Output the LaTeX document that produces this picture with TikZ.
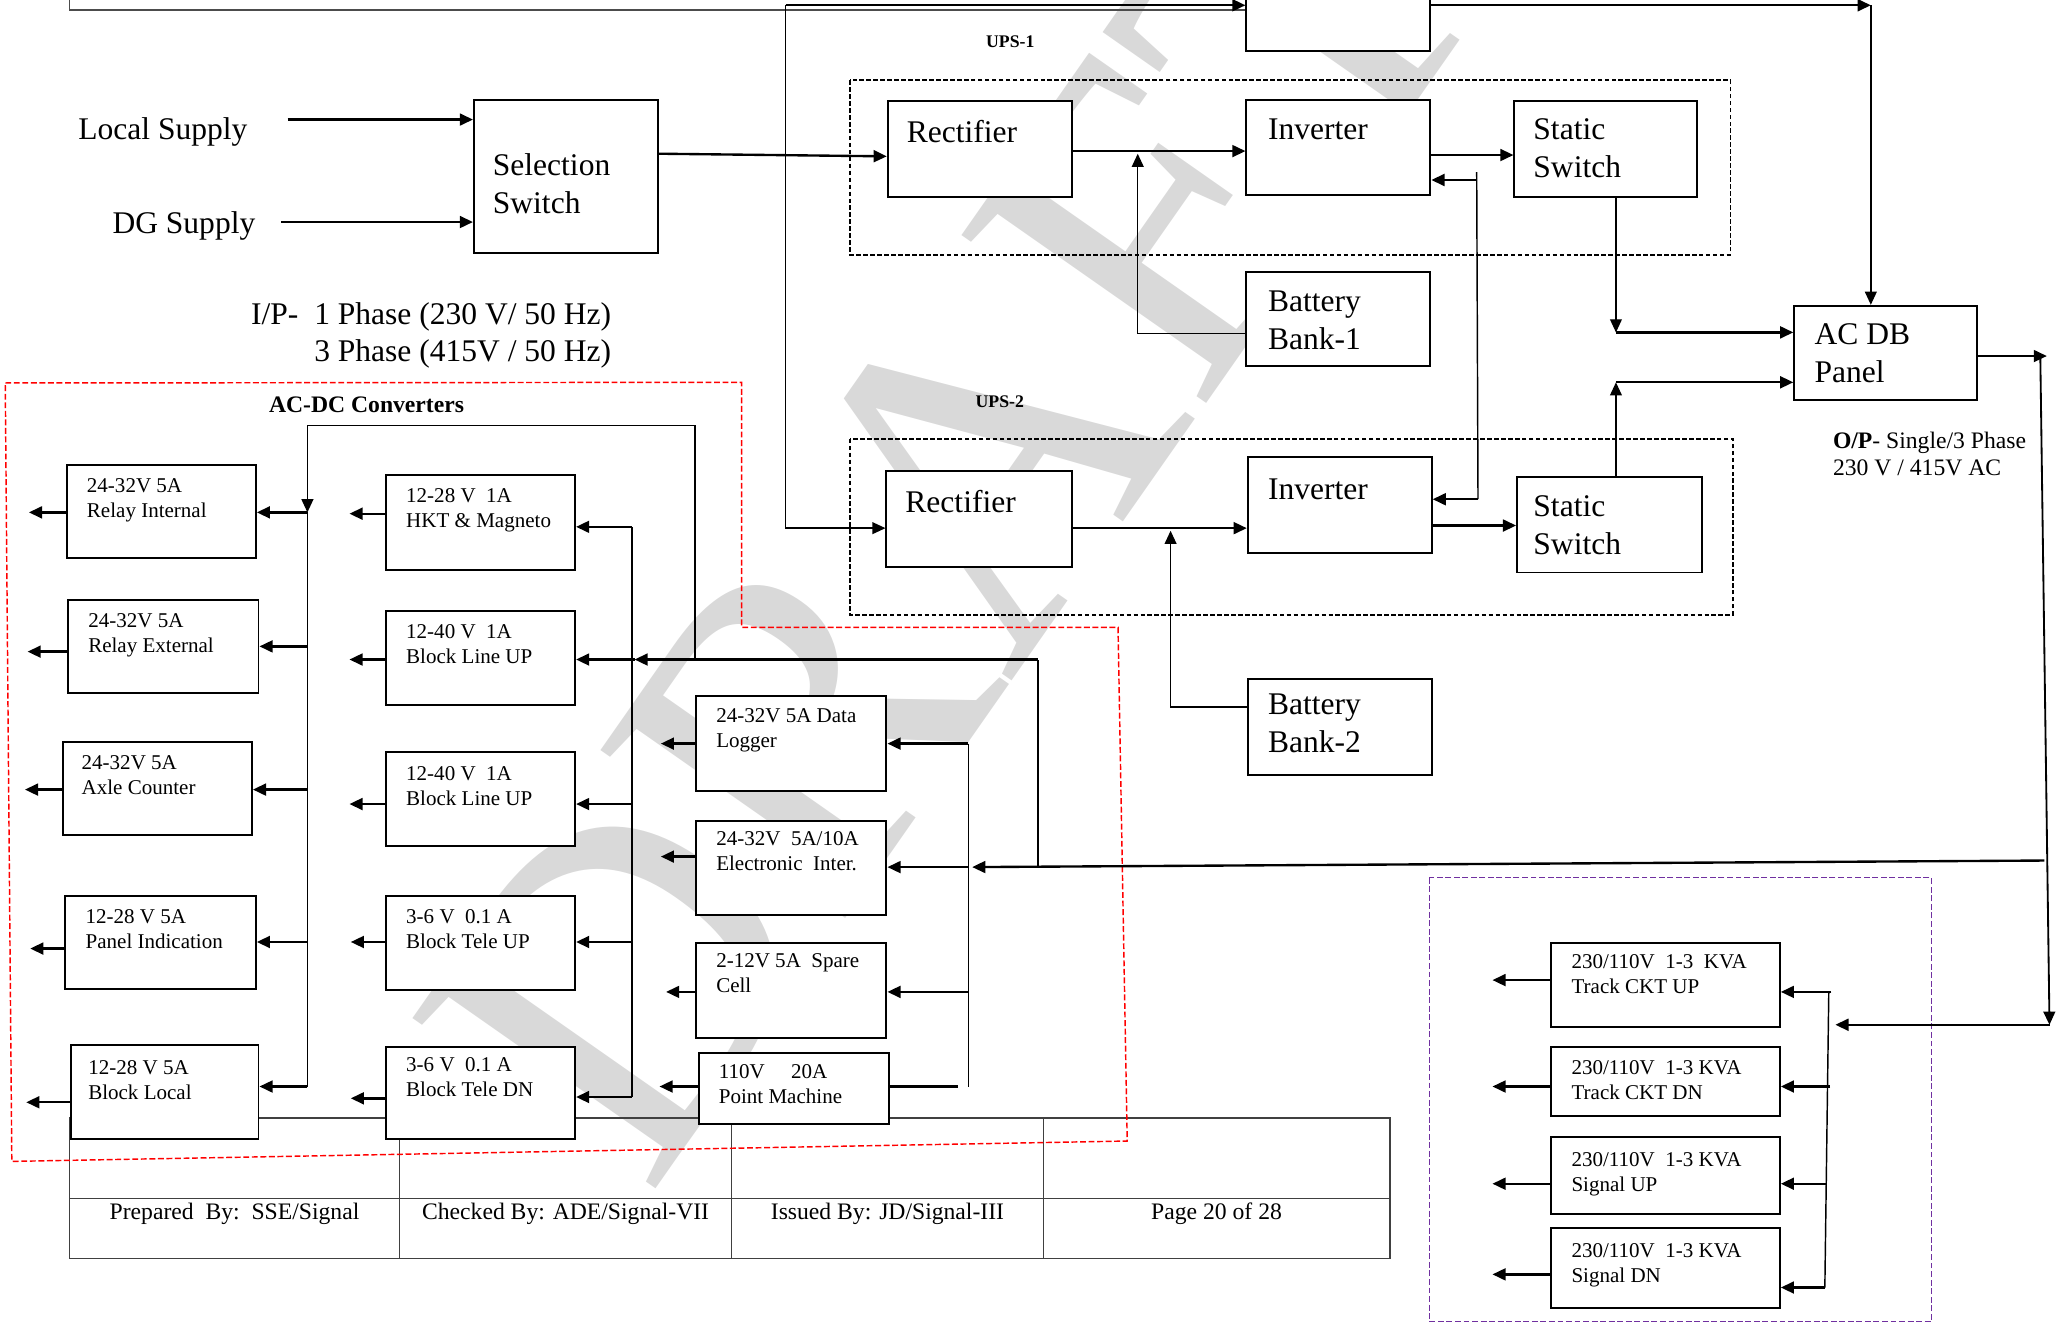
\documentclass[tikz,border=0pt]{standalone}
\usepackage{fontspec}
\setmainfont{Liberation Serif}
\usetikzlibrary{arrows.meta}

\definecolor{upsviolet}{RGB}{112,48,160}

\tikzset{
  blk/.style={draw, line width=1.5pt, fill=white, anchor=north west, inner sep=0pt},
  big/.style={font=\fontsize{24}{29}\selectfont},
  sml/.style={font=\fontsize{16}{19}\selectfont},
  lbl/.style={anchor=north west, align=left, inner sep=0pt},
  bl/.style={lbl, big, xshift=15pt, yshift=-15pt},
  sl/.style={lbl, sml, xshift=16pt, yshift=-11pt},
  arr/.style={line width=1.8pt, -{Triangle[length=10pt,width=9pt]}},
  tarr/.style={line width=1.1pt, -{Triangle[length=10pt,width=9pt]}},
  wire/.style={line width=1.1pt},
  lnk/.style={line width=1.8pt},
  tbl/.style={line width=0.9pt, black!75},
  wmark/.style={font=\fontsize{345}{345}\selectfont, text=black!15, rotate=55},
}

\begin{document}
\begin{tikzpicture}[x=1pt, y=-1pt]
  \useasboundingbox (0,0) rectangle (1568,1007);

  % watermark
  \node[wmark] (draft) at (725,385) {DRAFT};

  % footer table
  \draw[tbl] (53,851) rectangle (1058,958);
  \draw[tbl] (53,912) -- (1058,912);
  \draw[tbl] (304,851) -- (304,958);
  \draw[tbl] (557,851) -- (557,958);
  \draw[tbl] (794,851) -- (794,958);
  \node[font=\fontsize{18}{21}\selectfont, anchor=base] (prep) at (178.5,928) {Prepared~~By:~~SSE/Signal};
  \node[font=\fontsize{18}{21}\selectfont, anchor=base] (chk)  at (430.5,928) {Checked By: ADE/Signal-VII};
  \node[font=\fontsize{18}{21}\selectfont, anchor=base] (iss)  at (675.5,928) {Issued By: JD/Signal-III};
  \node[font=\fontsize{18}{21}\selectfont, anchor=base] (page) at (926,928) {Page 20 of 28};

  % group frames
  \draw[line width=1.1pt, dash pattern=on 3.5pt off 1.8pt] (647,61) rectangle (1317,194);
  \draw[line width=1.1pt, dash pattern=on 3.5pt off 1.8pt] (647,334) rectangle (1319,468);
  \draw[line width=1.1pt, red, dash pattern=on 4.5pt off 2pt]
    (4,291.5) -- (564.5,291) -- (564.5,477.5) -- (851,477.5) -- (858,868.5) -- (9,884) -- cycle;
  \draw[line width=1.1pt, upsviolet, dash pattern=on 4.5pt off 2pt] (1088,668) rectangle (1470,1006);

  % labels
  \node[big, anchor=base] (lsup) at (124,106) {Local Supply};
  \node[big, anchor=base] (dgsup) at (140,178) {DG Supply};
  \node[lbl, font=\fontsize{24}{28}\selectfont] (ipnote) at (191,230.5)
    {I/P-~~1 Phase (230 V/ 50 Hz)\\\phantom{I/P-~~}3 Phase (415V / 50 Hz)};
  \node[font=\bfseries\fontsize{13.5}{16}\selectfont] (ups1lbl) at (769,32) {UPS-1};
  \node[font=\bfseries\fontsize{13.5}{16}\selectfont] (ups2lbl) at (761,306) {UPS-2};
  \node[font=\bfseries\fontsize{18}{21}\selectfont] (acdclbl) at (279,308) {AC-DC Converters};
  \node[lbl, font=\fontsize{18}{21}\selectfont] (opnote) at (1395,328.5)
    {\textbf{O/P}- Single/3 Phase\\230 V / 415V AC};

  % UPS blocks
  \node[blk, minimum width=140pt, minimum height=117pt,
    label={[bl, yshift=-27pt]north west:{Selection\\Switch}}] (selsw) at (360,75) {};
  \node[blk, minimum width=140pt, minimum height=58pt] (bypass) at (948,-20) {};
  \node[blk, minimum width=140pt, minimum height=73pt, label={[bl]north west:Rectifier}] (rect1) at (675,76) {};
  \node[blk, minimum width=140pt, minimum height=73pt, label={[bl, xshift=2pt]north west:Inverter}] (inv1) at (948,75) {};
  \node[blk, minimum width=139pt, minimum height=73pt, label={[bl, yshift=1pt]north west:{Static\\Switch}}] (ssw1) at (1152,76) {};
  \node[blk, minimum width=140pt, minimum height=72pt, label={[bl, xshift=2pt]north west:{Battery\\Bank-1}}] (batt1) at (948,206) {};
  \node[blk, minimum width=139pt, minimum height=72pt, label={[bl, xshift=1pt, yshift=1pt]north west:{AC DB\\Panel}}] (acdb) at (1365,232) {};
  \node[blk, minimum width=141pt, minimum height=73pt, label={[bl]north west:Rectifier}] (rect2) at (674,358) {};
  \node[blk, minimum width=140pt, minimum height=73pt, label={[bl, xshift=1pt, yshift=-2pt]north west:Inverter}] (inv2) at (949,347) {};
  \node[blk, minimum width=141pt, minimum height=73pt, label={[bl, xshift=-2pt]north west:{Static\\Switch}}] (ssw2) at (1154,362) {};
  \node[blk, minimum width=140pt, minimum height=73pt, label={[bl, xshift=1pt, yshift=3pt]north west:{Battery\\Bank-2}}] (batt2) at (949,516) {};

  % AC-DC converters
  \node[blk, minimum width=144pt, minimum height=71pt, label={[sl]north west:{24-32V 5A\\Relay Internal}}] (relint) at (50,353) {};
  \node[blk, minimum width=145pt, minimum height=71pt, label={[sl]north west:{24-32V 5A\\Relay External}}] (relext) at (51,456) {};
  \node[blk, minimum width=144pt, minimum height=71pt, label={[sl, xshift=-1pt]north west:{24-32V 5A\\Axle Counter}}] (axle) at (47,564) {};
  \node[blk, minimum width=145pt, minimum height=71pt, label={[sl]north west:{12-28 V 5A\\Panel Indication}}] (panel) at (49,681) {};
  \node[blk, minimum width=143pt, minimum height=71pt, label={[sl, xshift=-2pt, yshift=-1pt]north west:{12-28 V 5A\\Block Local}}] (blklocal) at (53,795) {};
  \node[blk, minimum width=144pt, minimum height=72pt, label={[sl]north west:{12-28 V~~1A\\HKT \& Magneto}}] (hkt) at (293,361) {};
  \node[blk, minimum width=144pt, minimum height=72pt, label={[sl]north west:{12-40 V~~1A\\Block Line UP}}] (blup1) at (293,464) {};
  \node[blk, minimum width=144pt, minimum height=71pt, label={[sl]north west:{12-40 V~~1A\\Block Line UP}}] (blup2) at (293,572) {};
  \node[blk, minimum width=144pt, minimum height=72pt, label={[sl]north west:{3-6 V~~0.1 A\\Block Tele UP}}] (teleup) at (293,681) {};
  \node[blk, minimum width=144pt, minimum height=70pt, label={[sl, yshift=2pt]north west:{3-6 V~~0.1 A\\Block Tele DN}}] (teledn) at (293,796) {};
  \node[blk, minimum width=145pt, minimum height=72pt, label={[sl, yshift=1pt]north west:{24-32V 5A Data\\Logger}}] (logger) at (529,529) {};
  \node[blk, minimum width=145pt, minimum height=72pt, label={[sl, yshift=2pt]north west:{24-32V~~5A/10A\\Electronic~~Inter.}}] (elec) at (529,624) {};
  \node[blk, minimum width=145pt, minimum height=72pt, label={[sl, yshift=2pt]north west:{2-12V 5A~~Spare\\Cell}}] (spare) at (529,717) {};
  \node[blk, minimum width=145pt, minimum height=54pt, label={[sl, yshift=2pt]north west:{110V~~~~~20A\\Point Machine}}] (pm) at (531,801) {};

  % track and signal transformers
  \node[blk, minimum width=174pt, minimum height=64pt, label={[sl, yshift=2pt]north west:{230/110V~~1-3~~KVA\\Track CKT UP}}] (tckup) at (1180,717) {};
  \node[blk, minimum width=174pt, minimum height=53pt, label={[sl]north west:{230/110V~~1-3 KVA\\Track CKT DN}}] (tckdn) at (1180,796) {};
  \node[blk, minimum width=174pt, minimum height=58pt, label={[sl, yshift=-1pt]north west:{230/110V~~1-3 KVA\\Signal UP}}] (sigup) at (1180,865) {};
  \node[blk, minimum width=174pt, minimum height=61pt, label={[sl, yshift=-1pt]north west:{230/110V~~1-3 KVA\\Signal DN}}] (sigdn) at (1180,934) {};

  % supply side
  \coordinate (lsin) at (219,91);
  \coordinate (dgin) at (214,169);
  \draw[arr] (lsin) -- (lsin -| selsw.west);
  \draw[arr] (dgin) -- (dgin -| selsw.west);
  \draw[arr] (selsw.east |- 0,117) -- (rect1.west |- 0,119);

  % bypass line
  \coordinate (feed) at (598,4);
  \coordinate (bycorner) at (1424,4);
  \draw[line width=1pt, black!70] (53,-10) -- (53,7.5) -- (bypass.west |- 0,7.5);
  \draw[arr] (feed) -- (bypass.west |- feed);
  \draw[tarr] (feed) |- (rect2.west |- 0,402);
  \draw[arr] (bypass.east |- bycorner) -- (bycorner);
  \draw[tarr] (bycorner) -- (acdb.north -| bycorner);

  % UPS-1
  \draw[arr] (rect1.east |- 0,115) -- (inv1.west |- 0,115);
  \draw[tarr] (batt1.west |- 0,254) -| (866,117);
  \draw[arr] (inv1.east |- 0,118) -- (ssw1.west |- 0,118);
  \coordinate (rtop) at (1124,131);
  \coordinate (rbot) at (1125,380);
  \draw[wire] (rtop) -- (rbot);
  \draw[arr] (1124,137) -- (inv1.east |- 0,137);
  \draw[arr] (rbot) -- (inv2.east |- rbot);

  % UPS-2
  \draw[arr] (rect2.east |- 0,402) -- (inv2.west |- 0,402);
  \draw[tarr] (batt2.west |- 0,538) -| (891,404);
  \draw[arr] (inv2.east |- 0,400) -- (ssw2.west |- 0,400);

  % into AC DB
  \coordinate (j1) at (1230,253);
  \coordinate (j2) at (1230,291);
  \draw[tarr] (ssw1.south -| j1) -- (j1);
  \draw[arr] (j1) -- (acdb.west |- j1);
  \draw[tarr] (ssw2.north -| j2) -- (j2);
  \draw[arr] (j2) -- (acdb.west |- j2);

  % AC DB output
  \coordinate (opr) at (1558,271);
  \coordinate (optop) at (1553,271);
  \coordinate (opbot) at (1560,780);
  \coordinate (trin) at (1397,780);
  \coordinate (ldc) at (1556,655);
  \coordinate (b3mid) at (740,660);
  \draw[arr] (acdb.east |- opr) -- (opr);
  \draw[line width=1.4pt, -{Triangle[length=10pt,width=9pt]}] (optop) -- (opbot);
  \draw[arr] (opbot) -- (trin);
  \draw[arr] (ldc) -- (b3mid);

  % converter feeds
  \coordinate (tap) at (790,660);
  \coordinate (loop) at (529,502);
  \coordinate (b1top) at (234,390);
  \coordinate (b1bot) at (234,827);
  \coordinate (b2top) at (481,401);
  \coordinate (b2bot) at (481,835);
  \coordinate (b3top) at (737,566);
  \coordinate (b3bot) at (737,827);
  \draw[wire] (tap) -- (790,502);
  \draw[arr] (790,502) -- (483,502);
  \draw[arr] (483,502) -- (blup1.east |- 0,502);
  \draw[tarr] (loop) |- (234,324) -- (b1top);
  \draw[wire] (b1top) -- (b1bot);
  \draw[wire] (b2top) -- (b2bot);
  \draw[wire] (b3top) -- (b3bot);

  \draw[arr] (b1top) -- (relint.east |- b1top);
  \draw[arr] (234,492) -- (relext.east |- 0,492);
  \draw[arr] (234,601) -- (axle.east |- 0,601);
  \draw[arr] (234,717) -- (panel.east |- 0,717);
  \draw[arr] (b1bot) -- (blklocal.east |- b1bot);
  \draw[arr] (b2top) -- (hkt.east |- b2top);
  \draw[arr] (481,612) -- (blup2.east |- 0,612);
  \draw[arr] (481,717) -- (teleup.east |- 0,717);
  \draw[arr] (b2bot) -- (teledn.east |- b2bot);
  \draw[arr] (b3top) -- (logger.east |- b3top);
  \draw[arr] (737,660) -- (elec.east |- 0,660);
  \draw[arr] (737,755) -- (spare.east |- 0,755);
  \draw[lnk] (pm.east |- 0,827) -- (729,827);

  % converter outputs
  \draw[arr] (relint.west |- 0,390) -- ++(-28,0);
  \draw[arr] (relext.west |- 0,496) -- ++(-30,0);
  \draw[arr] (axle.west |- 0,601) -- ++(-28,0);
  \draw[arr] (panel.west |- 0,722) -- ++(-26,0);
  \draw[arr] (blklocal.west |- 0,839) -- ++(-33,0);
  \draw[arr] (hkt.west |- 0,391) -- ++(-27,0);
  \draw[arr] (blup1.west |- 0,502) -- ++(-27,0);
  \draw[arr] (blup2.west |- 0,612) -- ++(-27,0);
  \draw[arr] (teleup.west |- 0,717) -- ++(-26,0);
  \draw[arr] (teledn.west |- 0,836) -- ++(-26,0);
  \draw[arr] (logger.west |- 0,566) -- ++(-26,0);
  \draw[arr] (elec.west |- 0,652) -- ++(-26,0);
  \draw[arr] (spare.west |- 0,755) -- ++(-22,0);
  \draw[arr] (pm.west |- 0,827) -- ++(-29,0);

  % transformer bus
  \coordinate (b4top) at (1394,755);
  \coordinate (b4bot) at (1389,980);
  \draw[wire] (1392,755) -- (b4bot);
  \draw[arr] (b4top) -- (tckup.east |- b4top);
  \draw[arr] (1393,827) -- (tckdn.east |- 0,827);
  \draw[arr] (1390,901) -- (sigup.east |- 0,901);
  \draw[arr] (b4bot) -- (sigdn.east |- b4bot);
  \draw[arr] (tckup.west |- 0,746) -- ++(-44,0);
  \draw[arr] (tckdn.west |- 0,827) -- ++(-44,0);
  \draw[arr] (sigup.west |- 0,901) -- ++(-44,0);
  \draw[arr] (sigdn.west |- 0,970) -- ++(-44,0);
\end{tikzpicture}
\end{document}
